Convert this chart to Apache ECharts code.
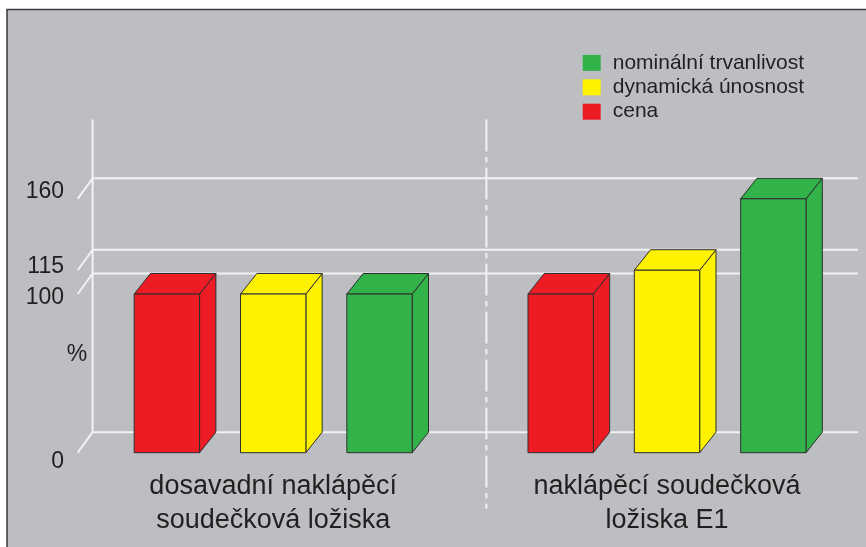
<!DOCTYPE html>
<html>
<head>
<meta charset="utf-8">
<script src="https://cdn.jsdelivr.net/npm/echarts@6/dist/echarts.min.js"></script>
<style>
  html, body { margin: 0; padding: 0; background: #ffffff; }
  #chart { width: 866px; height: 547px; }
</style>
</head>
<body>
<div id="chart"></div>
<script>
// Bearing groups and the three compared properties (in %)
const groups = ['dosavadní naklápěcí\nsoudečková ložiska', 'naklápěcí soudečková\nložiska E1'];
const cena = [100, 100];
const dynamickaUnosnost = [100, 115];
const nominalniTrvanlivost = [100, 160];
const tickValues = [0, 100, 115, 160];
const seriesNames = ['cena', 'dynamická únosnost', 'nominální trvanlivost'];
const legendOrder = ['nominální trvanlivost', 'dynamická únosnost', 'cena'];

// Pseudo-3D geometry
const DEPTH_X = 16.3;
const DEPTH_Y = -20.5;
const BAR_RATIO = 0.166;   // bar width as share of a category band
const STEP_RATIO = 0.27;   // distance between bar centres within a band
const TEXT = '#231f20';
const LINE = '#f2f2f3';
const FONT = "'Liberation Sans', Arial, Helvetica, sans-serif";

const chart = echarts.init(document.getElementById('chart'), null, { renderer: 'canvas' });

function boxSeries(name, values, color, slot) {
  return {
    type: 'custom',
    name: name,
    z: 5,
    clip: false,
    itemStyle: { color: color },
    encode: { x: 0, y: 1 },
    data: values.map((v, i) => [i, v]),
    renderItem: function (params, api) {
      const cat = api.value(0);
      const v = api.value(1);
      const band = api.size([1, 0])[0];
      const base = api.coord([cat, 0]);
      const top = api.coord([cat, v]);
      const w = band * BAR_RATIO;
      const cx = base[0] + slot * band * STEP_RATIO;
      const x0 = cx - w / 2, x1 = cx + w / 2;
      const yT = top[1], yB = base[1];
      const fill = api.visual('color');
      const st = { fill: fill, stroke: '#2e2e2e', lineWidth: 1, lineJoin: 'round' };
      return {
        type: 'group',
        children: [
          { type: 'polygon', shape: { points: [[x1, yT], [x1 + DEPTH_X, yT + DEPTH_Y], [x1 + DEPTH_X, yB + DEPTH_Y], [x1, yB]] }, style: st },
          { type: 'polygon', shape: { points: [[x0, yT], [x0 + DEPTH_X, yT + DEPTH_Y], [x1 + DEPTH_X, yT + DEPTH_Y], [x1, yT]] }, style: st },
          { type: 'rect', shape: { x: x0, y: yT, width: w, height: yB - yT }, style: st }
        ]
      };
    }
  };
}

const option = {
  animation: false,
  backgroundColor: '#ffffff',
  textStyle: { fontFamily: FONT },
  graphic: [
    {
      type: 'rect', z: -10, silent: true,
      shape: { x: 7, y: 9.5, width: 900, height: 600 },
      style: { fill: '#bdbec2', stroke: '#3a3a3a', lineWidth: 1.5 }
    },
    {
      type: 'text', z: 10, silent: true, x: 77, y: 355,
      style: { text: '%', fill: TEXT, font: '23px ' + FONT, align: 'center', verticalAlign: 'middle' }
    }
  ],
  legend: {
    data: legendOrder,
    orient: 'vertical',
    left: 582.7,
    top: 52.4,
    padding: 0,
    itemWidth: 18,
    itemHeight: 16,
    itemGap: 3.4,
    icon: 'rect',
    selectedMode: false,
    itemStyle: { borderWidth: 0 },
    textStyle: { color: TEXT, fontSize: 21, fontFamily: FONT, padding: [0, 0, 0, 7] }
  },
  grid: {
    left: 76.3,
    right: 2.1,
    top: 140.1,
    bottom: 94.3,
    containLabel: false,
    outerBoundsMode: 'none'
  },
  xAxis: {
    type: 'category',
    data: groups,
    axisLine: { show: false },
    axisTick: { show: false },
    splitLine: { show: false },
    axisLabel: {
      interval: 0,
      margin: 17,
      color: TEXT,
      fontSize: 27,
      lineHeight: 34,
      fontFamily: FONT,
      align: 'center'
    }
  },
  yAxis: {
    type: 'value',
    min: 0,
    max: 197,
    interval: 5,
    axisLine: { show: false },
    axisTick: { show: false },
    splitLine: { show: false },
    axisLabel: {
      margin: 12.3,
      color: TEXT,
      fontSize: 23,
      fontFamily: FONT,
      showMaxLabel: false,
      formatter: function (v) {
        return tickValues.indexOf(v) >= 0 ? '{t' + v + '|' + v + '}' : '';
      },
      rich: {
        t0:   { fontSize: 23, color: TEXT, fontFamily: FONT, padding: [18, 0, 0, 0] },
        t100: { fontSize: 23, color: TEXT, fontFamily: FONT, padding: [8, 0, 0, 0] },
        t115: { fontSize: 23, color: TEXT, fontFamily: FONT, padding: [0, 0, 8, 0] },
        t160: { fontSize: 23, color: TEXT, fontFamily: FONT, padding: [0, 0, 14, 0] }
      }
    }
  },
  series: [
    {
      // back wall: horizontal reference lines with slanted ticks toward the value labels
      type: 'custom',
      name: 'wall',
      z: 1,
      silent: true,
      clip: false,
      encode: { x: 0, y: 1 },
      data: tickValues.map(v => [0, v]),
      renderItem: function (params, api) {
        const cs = params.coordSys;
        const fy = api.coord([0, api.value(1)])[1];
        const by = fy + DEPTH_Y;
        const st = { stroke: LINE, lineWidth: 2 };
        return {
          type: 'group',
          children: [
            { type: 'line', shape: { x1: cs.x + DEPTH_X, y1: by, x2: cs.x + cs.width - 6, y2: by }, style: st },
            { type: 'line', shape: { x1: cs.x + 1.4, y1: fy, x2: cs.x + DEPTH_X, y2: by }, style: st }
          ]
        };
      }
    },
    {
      // back wall edge and the dash-dot divider between the two groups
      type: 'custom',
      name: 'frame',
      z: 1,
      silent: true,
      clip: false,
      encode: { x: 0, y: 1 },
      data: [[0, 0]],
      renderItem: function (params, api) {
        const cs = params.coordSys;
        const topY = cs.y + DEPTH_Y;
        const floorY = cs.y + cs.height + DEPTH_Y;
        const midX = cs.x + cs.width / 2 + DEPTH_X;
        return {
          type: 'group',
          children: [
            { type: 'line', shape: { x1: cs.x + DEPTH_X, y1: topY, x2: cs.x + DEPTH_X, y2: floorY }, style: { stroke: LINE, lineWidth: 2 } },
            { type: 'line', shape: { x1: midX, y1: topY, x2: midX, y2: cs.y + cs.height + 56 }, style: { stroke: LINE, lineWidth: 2, lineDash: [32, 5.5, 5.5, 5] } }
          ]
        };
      }
    },
    boxSeries(seriesNames[0], cena, '#ed1c24', -1),
    boxSeries(seriesNames[1], dynamickaUnosnost, '#fff200', 0),
    boxSeries(seriesNames[2], nominalniTrvanlivost, '#32b34a', 1)
  ]
};

chart.setOption(option);
</script>
</body>
</html>
